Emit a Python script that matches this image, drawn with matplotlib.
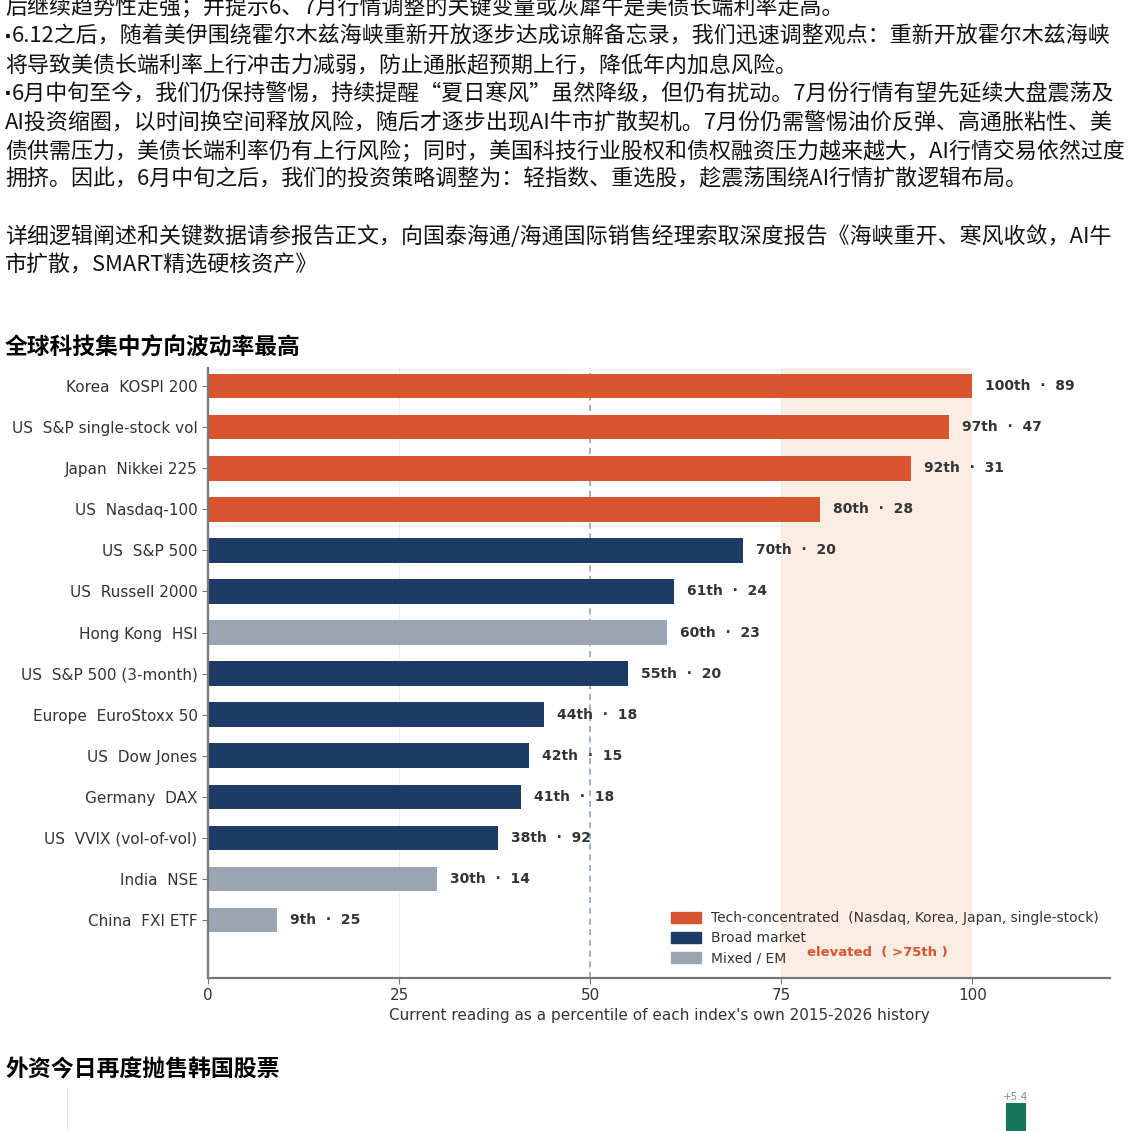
import matplotlib
matplotlib.use('Agg')
import matplotlib.pyplot as plt
from matplotlib.patches import Patch

plt.rcParams['font.family'] = ['DejaVu Sans']
cjk = ['Noto Sans CJK SC', 'DejaVu Sans']

# 页面正文（按原图换行），bullet 行单独画圆点
body_lines = [
    '后继续趋势性走强；并提示6、7月行情调整的关键变量或灰犀牛是美债长端利率走高。',
    '6.12之后，随着美伊围绕霍尔木兹海峡重新开放逐步达成谅解备忘录，我们迅速调整观点：重新开放霍尔木兹海峡',
    '将导致美债长端利率上行冲击力减弱，防止通胀超预期上行，降低年内加息风险。',
    '6月中旬至今，我们仍保持警惕，持续提醒“夏日寒风”虽然降级，但仍有扰动。7月份行情有望先延续大盘震荡及',
    'AI投资缩圈，以时间换空间释放风险，随后才逐步出现AI牛市扩散契机。7月份仍需警惕油价反弹、高通胀粘性、美',
    '债供需压力，美债长端利率仍有上行风险；同时，美国科技行业股权和债权融资压力越来越大，AI行情交易依然过度',
    '拥挤。因此，6月中旬之后，我们的投资策略调整为：轻指数、重选股，趁震荡围绕AI行情扩散逻辑布局。',
    '',
    '详细逻辑阐述和关键数据请参报告正文，向国泰海通/海通国际销售经理索取深度报告《海峡重开、寒风收敛，AI牛',
    '市扩散，SMART精选硬核资产》',
]
bullet_lines = [1, 3]
title_vol = '全球科技集中方向波动率最高'
title_flow = '外资今日再度抛售韩国股票'

# 波动率分位数图数据
indices = ['Korea  KOSPI 200', 'US  S&P single-stock vol', 'Japan  Nikkei 225',
           'US  Nasdaq-100', 'US  S&P 500', 'US  Russell 2000', 'Hong Kong  HSI',
           'US  S&P 500 (3-month)', 'Europe  EuroStoxx 50', 'US  Dow Jones',
           'Germany  DAX', 'US  VVIX (vol-of-vol)', 'India  NSE', 'China  FXI ETF']
pctile = [100, 97, 92, 80, 70, 61, 60, 55, 44, 42, 41, 38, 30, 9]
level = [89, 47, 31, 28, 20, 24, 23, 20, 18, 15, 18, 92, 14, 25]
group = ['tech', 'tech', 'tech', 'tech', 'broad', 'broad', 'mixed', 'broad',
         'broad', 'broad', 'broad', 'broad', 'mixed', 'mixed']
group_names = {'tech': 'Tech-concentrated  (Nasdaq, Korea, Japan, single-stock)',
               'broad': 'Broad market',
               'mixed': 'Mixed / EM'}
xticks_vol = [0, 25, 50, 75, 100]

# 外资流向图（只露出顶部一根柱子）
flow_pos = [20]
flow_vals = [5.4]

colors = {'tech': '#D9552E', 'broad': '#1E3B68', 'mixed': '#9BA5B1'}
W = H = 1131

fig = plt.figure(figsize=(11.31, 11.31), dpi=100)

# 正文
line_y = [8, 37, 66, 94, 123, 152, 180, 208, 237, 266]
for i, (txt, py) in enumerate(zip(body_lines, line_y)):
    if not txt:
        continue
    x0 = 5
    if i in bullet_lines:
        fig.text(4 / W, 1 - py / H, '·', fontsize=15, fontweight='bold',
                 va='center', ha='left', color='#111111')
        x0 = 12
    fig.text(x0 / W, 1 - py / H, txt, family=cjk, fontsize=15.8,
             va='center', ha='left', color='#111111')

fig.text(5 / W, 1 - 348 / H, title_vol, family=cjk, fontsize=16.4,
         fontweight='bold', va='center', ha='left')
fig.text(5 / W, 1 - 1070 / H, title_flow, family=cjk, fontsize=16.5,
         fontweight='bold', va='center', ha='left')

# 主图
ax = fig.add_axes([208 / W, 1 - 978 / H, (1110 - 208) / W, (978 - 368) / H])
ypos = list(range(len(indices)))
ax.axvspan(75, 100, color='#FBEDE4', zorder=0, lw=0)
for x in [25, 75]:
    ax.axvline(x, color='#EFEFEF', lw=0.8, zorder=0.5)
ax.axvline(50, color='#8C9AAE', lw=1.1, ls=(0, (4, 3)), zorder=0.6)
ax.barh(ypos, pctile, height=0.6, color=[colors[g] for g in group], zorder=2)

for y, p, v in zip(ypos, pctile, level):
    ax.text(p + 1.7, y, f'{p}th  ·  {v}', va='center', ha='left',
            fontsize=10, fontweight='bold', color='#333333', zorder=3)

ax.text(78.4, 13.8, 'elevated  ( >75th )', color='#D9552E', fontsize=9.5,
        fontweight='bold', va='center', ha='left')

ax.set_yticks(ypos)
ax.set_yticklabels(indices, fontsize=11, color='#333333')
ax.set_ylim(14.41, -0.44)
ax.set_xlim(0, 118)
ax.set_xticks(xticks_vol)
ax.tick_params(axis='x', labelsize=11, colors='#333333', length=4, color='#777777')
ax.tick_params(axis='y', length=4, color='#777777')
ax.set_xlabel("Current reading as a percentile of each index's own 2015-2026 history",
              fontsize=11, color='#333333', labelpad=3)
for s in ['top', 'right']:
    ax.spines[s].set_visible(False)
for s in ['left', 'bottom']:
    ax.spines[s].set_color('#777777')
    ax.spines[s].set_linewidth(1.6)

handles = [Patch(color=colors[k], label=group_names[k]) for k in ['tech', 'broad', 'mixed']]
ax.legend(handles=handles, loc='lower left', bbox_to_anchor=(0.499, 0.0),
          frameon=False, fontsize=10, handlelength=2.2, handleheight=0.85,
          handletextpad=0.7, labelspacing=0.45, labelcolor='#333333')

# 底部外资流向图（被页面截断）
ax2 = fig.add_axes([67 / W, -0.3, (1110 - 67) / W, 0.3 + 1 - 1088 / H])
ax2.bar(flow_pos, flow_vals, width=0.43, color='#15765A')
for x, v in zip(flow_pos, flow_vals):
    ax2.text(x, v + 0.05, f'+{v}', ha='center', va='bottom', fontsize=7.5, color='#888888')
ax2.set_xlim(-0.5, 22.03)
ax2.set_ylim(-9.3, 6)
ax2.set_xticks([])
ax2.set_yticks([])
for s in ['top', 'right', 'bottom']:
    ax2.spines[s].set_visible(False)
ax2.spines['left'].set_color('#DDDDDD')
ax2.spines['left'].set_linewidth(0.8)

fig.savefig('out.png', dpi=100)
